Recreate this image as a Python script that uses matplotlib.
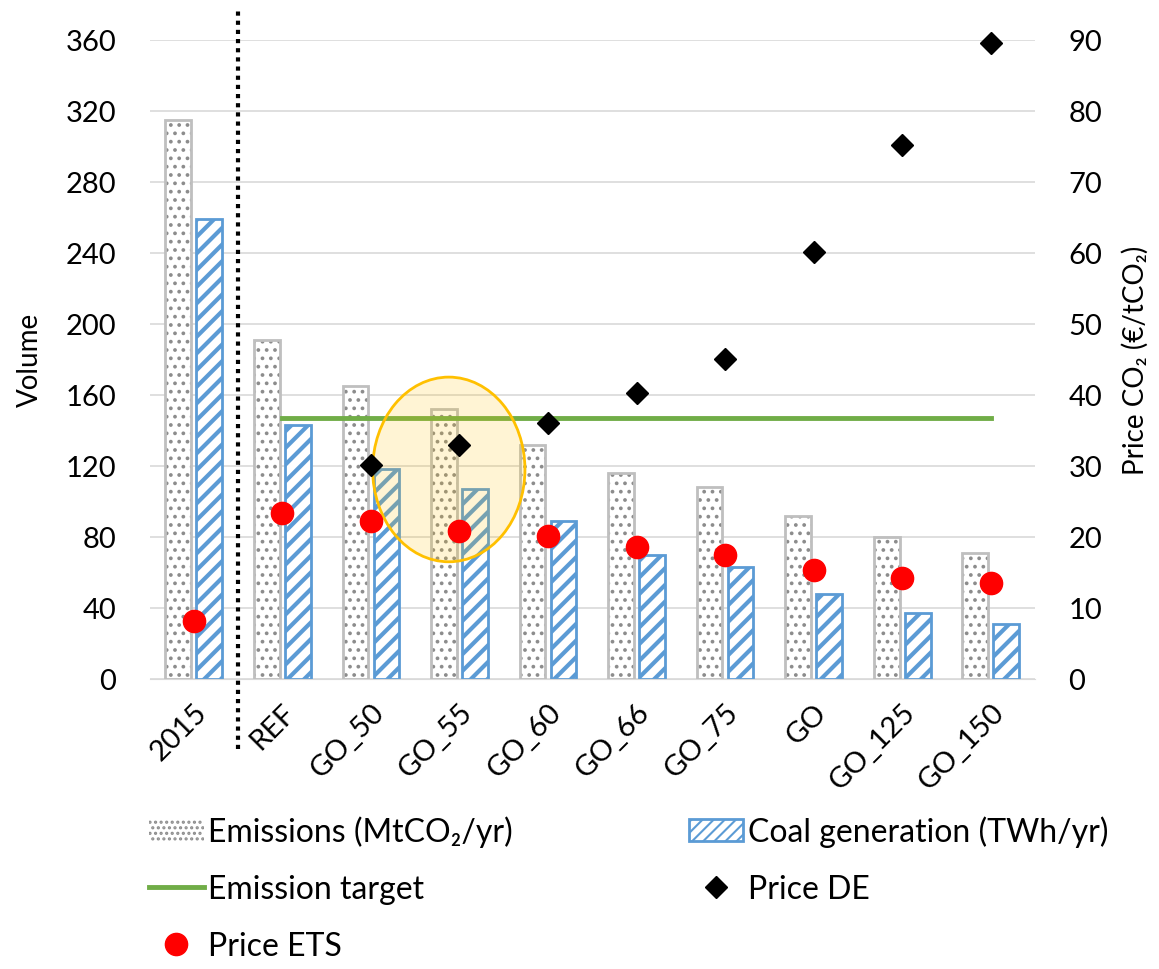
import numpy as np
import matplotlib.pyplot as plt
from matplotlib.patches import Patch, Ellipse
from matplotlib.lines import Line2D

plt.rcParams['font.family'] = ['Lato', 'DejaVu Sans']

cats = ['2015', 'REF', 'GO_50', 'GO_55', 'GO_60', 'GO_66', 'GO_75', 'GO', 'GO_125', 'GO_150']
emissions = [315, 191, 165, 152, 132, 116, 108, 92, 80, 71]
coal = [259, 143, 118, 107, 89, 70, 63, 48, 37, 31]
target = 147
price_de = [np.nan, np.nan, 30.1, 33.0, 36.0, 40.2, 45.0, 60.1, 75.2, 89.6]
price_ets = [8.2, 23.4, 22.3, 20.8, 20.1, 18.6, 17.5, 15.4, 14.2, 13.5]

x = np.arange(len(cats))
w = 0.29
off = 0.175

fig = plt.figure(figsize=(11.59, 9.70), dpi=100)
ax = fig.add_axes([0.129, 0.299, 0.764, 0.659])
ax2 = ax.twinx()
ax.set_zorder(ax2.get_zorder() + 1)
ax.patch.set_visible(False)

# emissions: dotted fill + light grey outline
plt.rcParams['hatch.linewidth'] = 1.5
ax.bar(x - off, emissions, w, color='white', edgecolor='#8c8c8c', hatch='..', linewidth=0, zorder=2)
ax.bar(x - off, emissions, w, fill=False, edgecolor='#bfbfbf', linewidth=2, zorder=3)
# coal generation
plt.rcParams['hatch.linewidth'] = 3.0
ax.bar(x + off, coal, w, color='white', edgecolor='#5b9bd5', hatch='//', linewidth=2, zorder=2)

ax.plot(x[1:], [target] * (len(cats) - 1), color='#70ad47', lw=3.5, zorder=4)

ax.add_patch(Ellipse((2.88, 118), 1.72, 104, facecolor='#ffc000', alpha=0.17, edgecolor='none', zorder=5))
ax.add_patch(Ellipse((2.88, 118), 1.72, 104, facecolor='none', edgecolor='#ffc000', lw=2, zorder=6))

ax.set_xlim(-0.5, len(cats) - 0.5)
ax.set_ylim(0, 360)
ax.set_yticks(np.arange(0, 361, 40))
ax.grid(axis='y', color='#d9d9d9', lw=1.2, zorder=0)
ax.set_axisbelow(True)
ax.set_xticks(x)
ax.set_xticklabels(cats, rotation=45, ha='right', rotation_mode='anchor', fontsize=21)
ax.tick_params(axis='x', length=0, labelsize=21, pad=14)
ax.tick_params(axis='y', length=0, labelsize=21, pad=24)
ax.set_ylabel('Volume', fontsize=20, labelpad=16)

ax2.set_ylim(0, 90)
ax2.set_yticks(np.arange(0, 91, 10))
ax2.tick_params(axis='y', length=0, labelsize=21, pad=24)
ax2.set_ylabel('Price CO₂ (€/tCO₂)', fontsize=20, labelpad=14)

# prices (right axis, 90 -> 360 on left scale)
ax.plot(x, np.array(price_de) * 4, 'D', color='black', ms=11, zorder=7, clip_on=False)
ax.plot(x, np.array(price_ets) * 4, 'o', color='#ff0000', ms=16, zorder=8, clip_on=False)

for a in (ax, ax2):
    for s in a.spines.values():
        s.set_visible(False)
ax.spines['bottom'].set_visible(True)
ax.spines['bottom'].set_color('#d9d9d9')

ax.plot([0.5, 0.5], [-0.11, 1.05], transform=ax.get_xaxis_transform(), color='black',
        ls=(0, (1, 1.2)), lw=3, clip_on=False, zorder=9)

plt.rcParams['hatch.linewidth'] = 1.5
h_em = Patch(facecolor='white', edgecolor='#8c8c8c', hatch='...', linewidth=0)
h_coal = Patch(facecolor='white', edgecolor='#5b9bd5', hatch='///', linewidth=2)
h_tgt = Line2D([], [], color='#70ad47', lw=3.5)
h_de = Line2D([], [], marker='D', color='black', ls='none', ms=11)
h_ets = Line2D([], [], marker='o', color='#ff0000', ls='none', ms=16)
handles = [h_em, h_tgt, h_ets, h_coal, h_de]
labels = ['Emissions (MtCO₂/yr)', 'Emission target', 'Price ETS', 'Coal generation (TWh/yr)', 'Price DE']
fig.legend(handles, labels, ncol=2, loc='upper left', bbox_to_anchor=(0.104, 0.188), frameon=False,
           fontsize=23, handlelength=1.7, handletextpad=0.15, columnspacing=5.5, labelspacing=0.85)

fig.savefig('out.png', dpi=100)
